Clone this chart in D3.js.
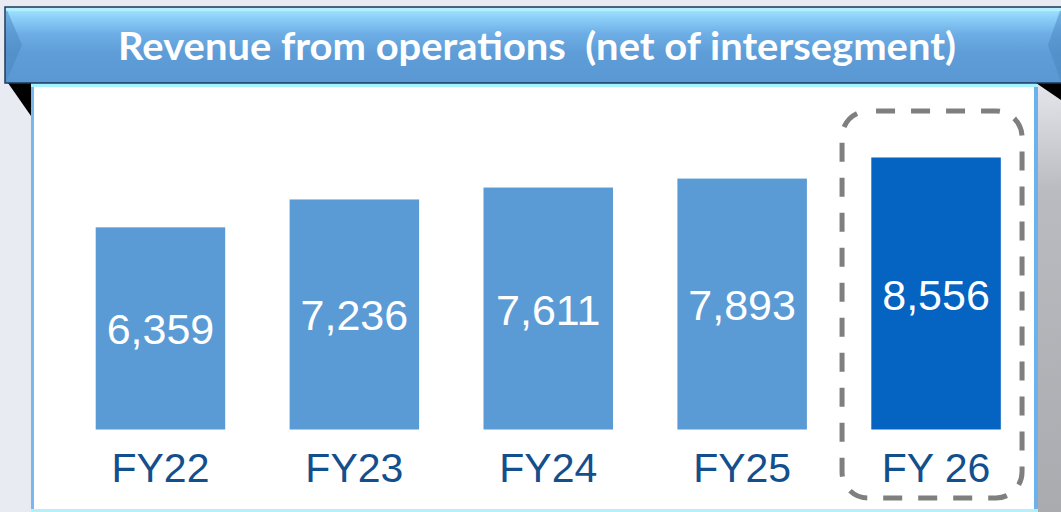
<!DOCTYPE html>
<html><head><meta charset="utf-8">
<script src="https://cdn.jsdelivr.net/npm/d3@7"></script>
<style>html,body{margin:0;padding:0;background:#e9ebf3;overflow:hidden}</style>
</head><body>
<svg id="c" width="1061" height="512"></svg>
<script>
const categories = ["FY22","FY23","FY24","FY25","FY 26"];
const values = [6359, 7236, 7611, 7893, 8556];
const highlight = [false,false,false,false,true];
const title = "Revenue from operations  (net of intersegment)";

const svg = d3.select("#c");
const defs = svg.append("defs");
const g1 = defs.append("linearGradient").attr("id","ban").attr("x1",0).attr("y1",0).attr("x2",0).attr("y2",1);
[[0,"#a6ecfd"],[0.12,"#8fd3fa"],[0.35,"#6eaee6"],[0.6,"#5e9dd7"],[1,"#5a98d3"]].forEach(s=>g1.append("stop").attr("offset",s[0]).attr("stop-color",s[1]));
const g2 = defs.append("linearGradient").attr("id","side").attr("x1",0).attr("y1",0).attr("x2",0).attr("y2",1);
[[0,"#e4e6ec"],[0.25,"#b9bbc0"],[1,"#a9abaf"]].forEach(s=>g2.append("stop").attr("offset",s[0]).attr("stop-color",s[1]));

// right gray strip and fold
svg.append("rect").attr("x",1038).attr("y",84).attr("width",23).attr("height",428).attr("fill","url(#side)");
svg.append("path").attr("d","M1036,83 L1061,83 L1061,100 Z").attr("fill","#000");
// left fold
svg.append("path").attr("d","M8,83 L31,83 L31,116 Z").attr("fill","#000");

// panel
svg.append("rect").attr("x",31).attr("y",84).attr("width",1006).attr("height",430).attr("fill","#fff");
svg.append("rect").attr("x",31).attr("y",84).attr("width",3).attr("height",428).attr("fill","#78b8f2");
svg.append("rect").attr("x",1034).attr("y",84).attr("width",4).attr("height",428).attr("fill","#6cb0ee");
svg.append("rect").attr("x",31).attr("y",84).attr("width",1007).attr("height",3).attr("fill","#a6f4ff");
svg.append("rect").attr("x",31).attr("y",509).attr("width",1007).attr("height",3).attr("fill","#b5eefc");

// banner
svg.append("rect").attr("x",5).attr("y",7).attr("width",1060).attr("height",76).attr("fill","url(#ban)").attr("stroke","#1c3a5c").attr("stroke-width",1.5);
svg.append("path").attr("d","M6,8 L22,45 L6,82 Z").attr("fill","#4a86c0").attr("opacity",0.5);
svg.append("path").attr("d","M1061,8 L1048,45 L1061,82 Z").attr("fill","#4a86c0").attr("opacity",0.5);
svg.append("rect").attr("x",6).attr("y",8).attr("width",1055).attr("height",3).attr("fill","#b8f2ff").attr("opacity",0.8);

svg.append("text").attr("x",537).attr("y",60).attr("text-anchor","middle")
  .attr("fill","#fff").attr("font-family","Lato, 'Open Sans', sans-serif").attr("font-weight","bold")
  .attr("font-size",39).style("white-space","pre")
  .attr("textLength",838).attr("lengthAdjust","spacingAndGlyphs").text(title);

// scales
const bw = 129.5, step = 193.9, x0 = 95.7;
const xb = d3.scalePoint().domain(categories).range([x0, x0+step*4]);
const y = d3.scaleLinear().domain([0, 8556]).range([429.5, 157.5]);

svg.selectAll(".bar").data(values).join("rect")
  .attr("x",(d,i)=>xb(categories[i])).attr("y",d=>y(d))
  .attr("width",bw).attr("height",d=>y(0)-y(d))
  .attr("fill",(d,i)=>highlight[i]?"#0563c1":"#5b9bd5");

svg.selectAll(".val").data(values).join("text")
  .attr("x",(d,i)=>xb(categories[i])+bw/2).attr("y",d=>(y(d)+y(0))/2+16)
  .attr("text-anchor","middle").attr("fill","#fff")
  .attr("font-family","Arial, 'Liberation Sans', sans-serif").attr("font-size",43)
  .text(d=>d3.format(",")(d));

svg.selectAll(".cat").data(categories).join("text")
  .attr("x",d=>xb(d)+bw/2).attr("y",482)
  .attr("text-anchor","middle").attr("fill","#134f8c")
  .attr("font-family","Arial, 'Liberation Sans', sans-serif").attr("font-size",41)
  .text(d=>d);

// dashed highlight box
const hi = categories[highlight.indexOf(true)];
svg.append("rect").attr("x",xb(hi)+bw/2-94).attr("y",111).attr("width",180).attr("height",387)
  .attr("rx",26).attr("ry",26).attr("fill","none").attr("stroke","#7f7f7f")
  .attr("stroke-width",5).attr("stroke-dasharray","19 16").attr("stroke-dashoffset",-8);
</script>
</body></html>
